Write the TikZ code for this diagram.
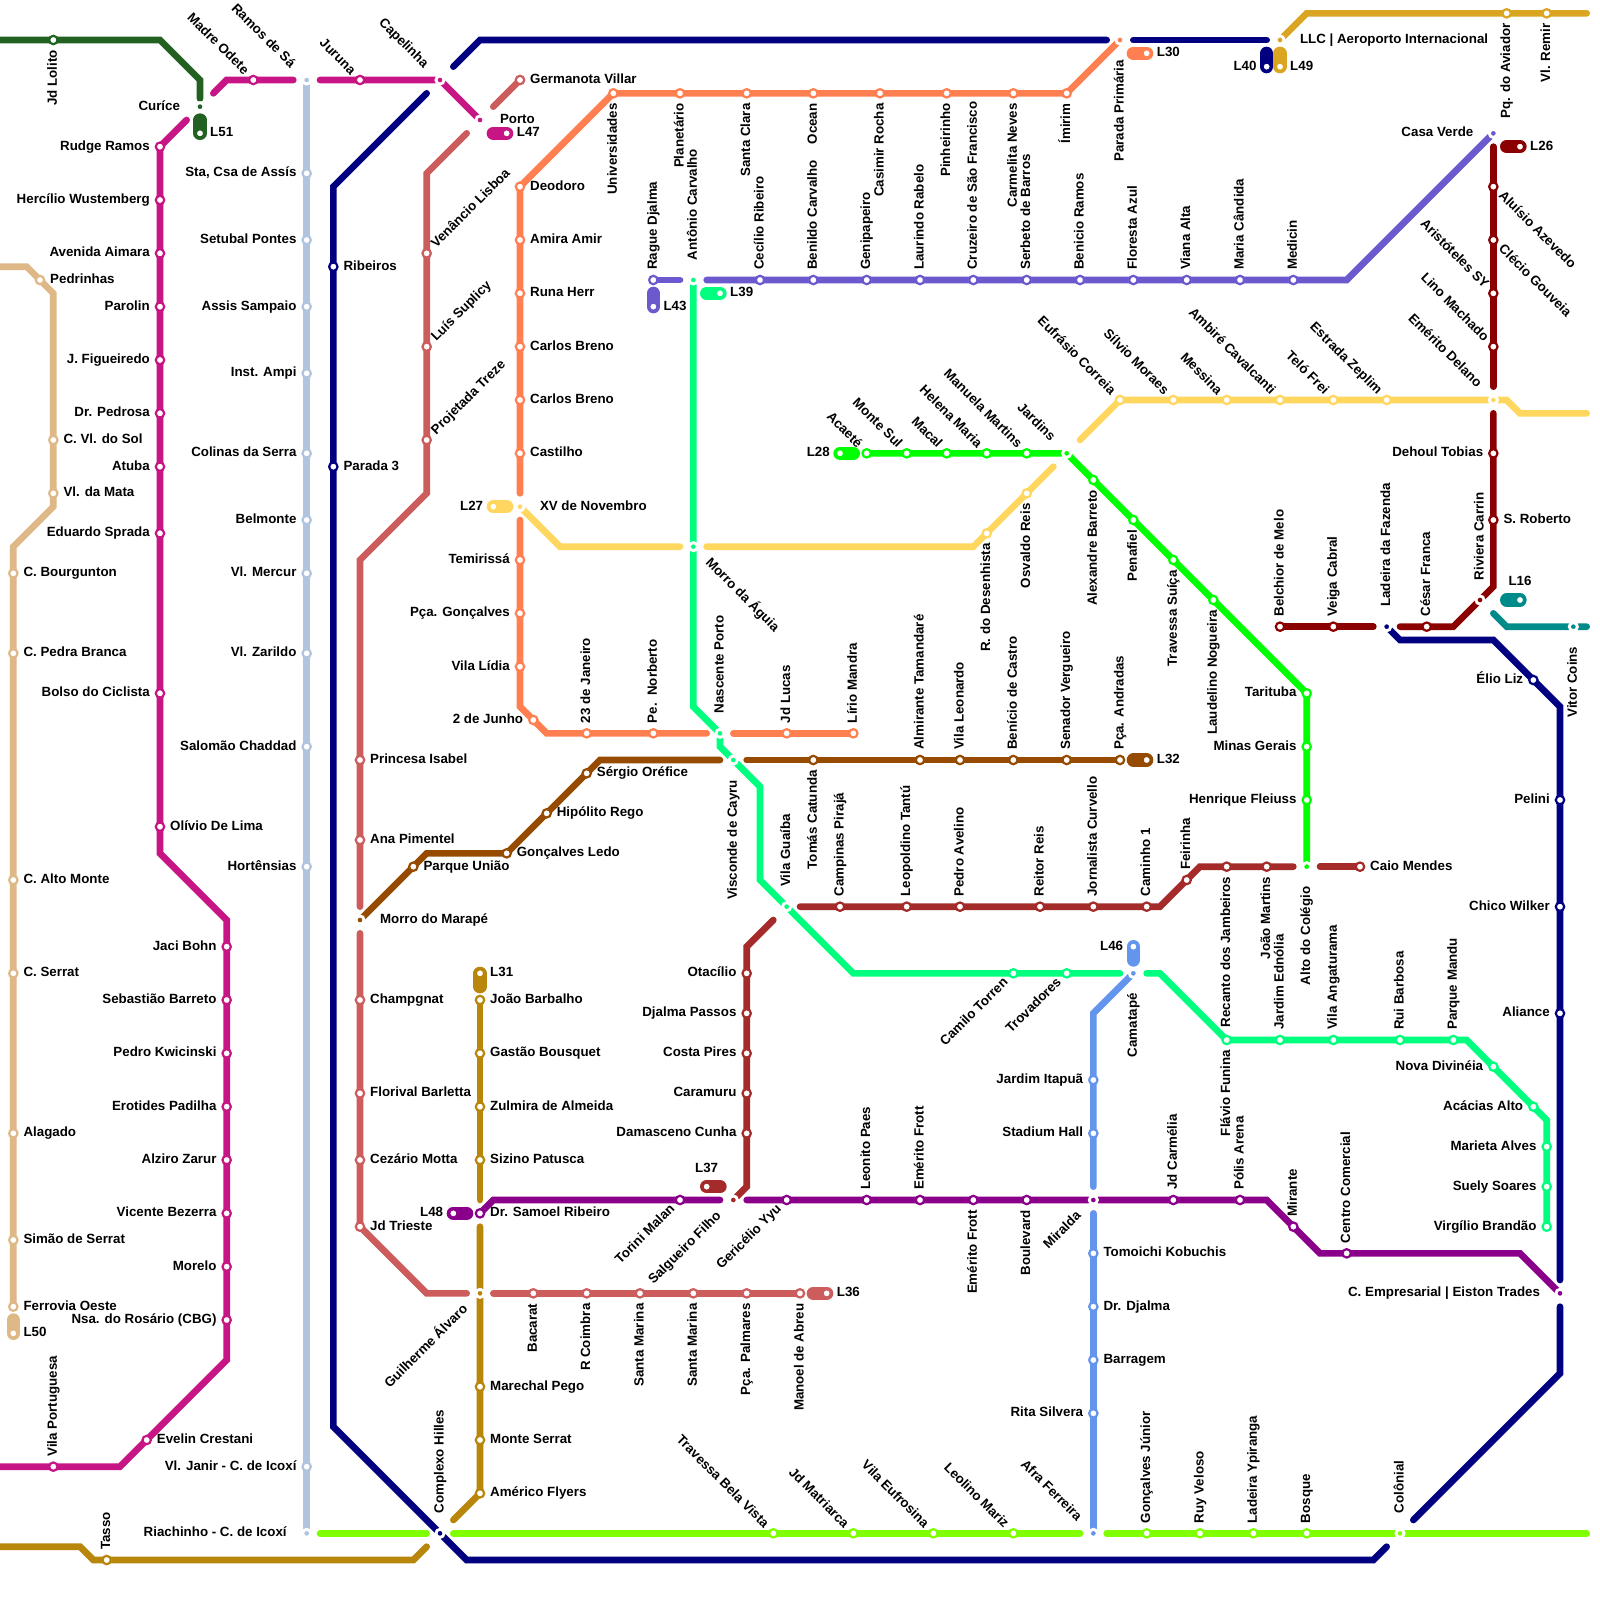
\documentclass[tikz,border=0pt]{standalone}
\usepackage{fontspec}
\setmainfont{Liberation Sans}
\definecolor{cDG}{HTML}{236123}
\definecolor{cMG}{HTML}{C71585}
\definecolor{cTN}{HTML}{DEB887}
\definecolor{cLB}{HTML}{B0C4DE}
\definecolor{cNV}{HTML}{000080}
\definecolor{cIR}{HTML}{CD5C5C}
\definecolor{cOR}{HTML}{FF7F50}
\definecolor{cGO}{HTML}{DAA520}
\definecolor{cDO}{HTML}{B8860B}
\definecolor{cSL}{HTML}{6A5ACD}
\definecolor{cSG}{HTML}{00FF7F}
\definecolor{cLW}{HTML}{7FFF00}
\definecolor{cLM}{HTML}{00FF00}
\definecolor{cDR}{HTML}{8B0000}
\definecolor{cYL}{HTML}{FFD75F}
\definecolor{cBR}{HTML}{964B00}
\definecolor{cRB}{HTML}{A52A2A}
\definecolor{cPU}{HTML}{8B008B}
\definecolor{cCF}{HTML}{6495ED}
\definecolor{cTL}{HTML}{008B8B}
\newcounter{sn}
\newcounter{rn}
\def\oR{0}\def\oL{180}\def\aR{west}\def\aL{east}
\newcommand\lbl[5]{\path (#1) ++({#3+\csname o#4\endcsname}:#2) ++({#3-90}:3.5pt)
  node[lab,rotate=#3,anchor=base \csname a#4\endcsname] (t\arabic{sn}) {#5};}
\newcommand\st[6]{\stepcounter{sn}\node[stat,draw=#1] (s\arabic{sn}) at (#2,#3) {};
  \lbl{s\arabic{sn}}{10.2pt}{#4}{#5}{#6}}
\newcommand\ic[6]{\stepcounter{sn}\node[inter,fill=#1] (s\arabic{sn}) at (#2,#3) {};
  \lbl{s\arabic{sn}}{20pt}{#4}{#5}{#6}}
\newcommand\rt[2]{\stepcounter{rn}\edef\rnm{r\arabic{rn}}%
  \foreach \px/\py [count=\ci] in {#2}{\coordinate (\rnm-\ci) at (\px,\py); \xdef\lastci{\ci}}%
  \draw[ln,#1] (\rnm-1) \foreach \ci in {2,...,\lastci}{ -- (\rnm-\ci)};}
\newcommand\pill[2]{\rt{draw=#1,line width=13.33pt}{#2}}
\tikzset{
  ln/.style={line width=6.67pt,line cap=round,line join=miter},
  stat/.style={circle,fill=white,line width=2.2pt,minimum size=8.4pt,inner sep=0pt,outer sep=0pt},
  inter/.style={circle,draw=white,line width=2.9pt,minimum size=8.1pt,inner sep=0pt,outer sep=0pt},
  lab/.style={inner sep=0pt,outer sep=0pt,text=black,font=\fontsize{13.33}{16}\selectfont\bfseries}
}
\begin{document}
\begin{tikzpicture}[x=13.3333pt,y=-13.3333pt]
\useasboundingbox (0,0) rectangle (120,120);
\fill[white] (0,0) rectangle (120,120);
% lines
\rt{draw=cLB}{23/6,23/115}
\rt{draw=cDG}{0/3,12/3,15/6,15/7.4}
\pill{cDG}{15/9,15/10}
\rt{draw=cMG}{0/110,9/110,17/102,17/69,12/64,12/11,14/9}
\rt{draw=cMG}{16/7,17/6,22/6}
\rt{draw=cMG}{24/6,33/6,36/9}
\pill{cMG}{37/10,38/10}
\rt{draw=cTN}{0/20,2/20,4/22,4/38,1/41,1/98}
\pill{cTN}{1/99,1/100}
\rt{draw=cNV}{34/5,36/3,83/3}
\rt{draw=cNV}{85/3,95/3}
\pill{cNV}{95/4,95/5}
\rt{draw=cNV}{32/7,25/14,25/107,35/117,103/117,104/116}
\rt{draw=cNV}{106/114,117/103,117/98}
\rt{draw=cNV}{117/96,117/53,112/48,105/48,104/47}
\rt{draw=cGO}{96/3,98/1,119/1}
\pill{cGO}{96/4,96/5}
\rt{draw=cIR}{39/6,37/8}
\rt{draw=cIR}{35/10,32/13,32/37,27/42,27/68}
\rt{draw=cIR}{27/70,27/92,32/97,35/97}
\rt{draw=cIR}{37/97,60/97}
\pill{cIR}{61/97,62/97}
\pill{cDO}{36/73,36/74}
\rt{draw=cDO}{36/75,36/90}
\rt{draw=cDO}{36/92,36/112,34/114}
\rt{draw=cDO}{32/116,31/117,7/117,6/116,0/116}
\pill{cOR}{85/4,86/4}
\rt{draw=cOR}{84/3,80/7,46/7,39/14,39/37}
\rt{draw=cOR}{39/39,39/53,41/55,53/55}
\rt{draw=cOR}{55/55,64/55}
\pill{cSL}{49/22,49/23}
\rt{draw=cSL}{49/21,51/21}
\rt{draw=cSL}{53/21,101/21,112/10}
\pill{cSG}{53/22,54/22}
\rt{draw=cSG}{52/21,52/53,54/55,54/56,57/59,57/66,64/73,84/73}
\rt{draw=cSG}{86/73,87/73,92/78,110/78,116/84,116/92}
\pill{cLM}{63/34,64/34}
\rt{draw=cLM}{65/34,80/34,98/52,98/65}
\pill{cYL}{37/38,38/38}
\rt{draw=cYL}{39/38,42/41,51/41}
\rt{draw=cYL}{53/41,73/41,79/35}
\rt{draw=cYL}{81/33,84/30,113/30,114/31,119/31}
\pill{cDR}{113/11,114/11}
\rt{draw=cDR}{112/11,112/29}
\rt{draw=cDR}{112/31,112/44,109/47,105/47}
\rt{draw=cDR}{103/47,96/47}
\pill{cTL}{113/45,114/45}
\rt{draw=cTL}{112/46,113/47,119/47}
\pill{cRB}{53/89,54/89}
\rt{draw=cRB}{58/69,56/71,56/89,55/90}
\rt{draw=cRB}{60/68,87/68,90/65,97/65}
\rt{draw=cRB}{99/65,102/65}
\pill{cBR}{85/57,86/57}
\rt{draw=cBR}{84/57,56/57}
\rt{draw=cBR}{54/57,45/57,38/64,32/64,27/69}
\pill{cPU}{34/91,35/91}
\rt{draw=cPU}{36/91,37/90,54/90}
\rt{draw=cPU}{56/90,95/90,99/94,114/94,117/97}
\pill{cCF}{85/71,85/72}
\rt{draw=cCF}{85/73,82/76,82/89}
\rt{draw=cCF}{82/91,82/115}
\rt{draw=cLW}{24/115,32/115}
\rt{draw=cLW}{34/115,81/115}
\rt{draw=cLW}{83/115,119/115}
% dark green
\st{cDG}{4}{3}{90}{L}{Jd Lolito}
\ic{cDG}{15}{8}{0}{L}{Curíce}
\st{cDG}{15}{10}{0}{R}{L51}
% magenta
\st{cMG}{4}{110}{90}{R}{Vila Portuguesa}
\st{cMG}{11}{108}{0}{R}{Evelin Crestani}
\st{cMG}{17}{99}{0}{L}{Nsa. do Rosário (CBG)}
\st{cMG}{17}{95}{0}{L}{Morelo}
\st{cMG}{17}{91}{0}{L}{Vicente Bezerra}
\st{cMG}{17}{87}{0}{L}{Alziro Zarur}
\st{cMG}{17}{83}{0}{L}{Erotides Padilha}
\st{cMG}{17}{79}{0}{L}{Pedro Kwicinski}
\st{cMG}{17}{75}{0}{L}{Sebastião Barreto}
\st{cMG}{17}{71}{0}{L}{Jaci Bohn}
\st{cMG}{12}{62}{0}{R}{Olívio De Lima}
\st{cMG}{12}{52}{0}{L}{Bolso do Ciclista}
\st{cMG}{12}{40}{0}{L}{Eduardo Sprada}
\st{cMG}{12}{35}{0}{L}{Atuba}
\st{cMG}{12}{31}{0}{L}{Dr. Pedrosa}
\st{cMG}{12}{27}{0}{L}{J. Figueiredo}
\st{cMG}{12}{23}{0}{L}{Parolin}
\st{cMG}{12}{19}{0}{L}{Avenida Aimara}
\st{cMG}{12}{15}{0}{L}{Hercílio Wustemberg}
\st{cMG}{12}{11}{0}{L}{Rudge Ramos}
\st{cMG}{19}{6}{-45}{L}{Madre Odete}
\st{cMG}{27}{6}{-45}{L}{Juruna}
\ic{cMG}{33}{6}{-45}{L}{Capelinha}
\ic{cMG}{36}{9}{0}{R}{Porto}
\st{cMG}{38}{10}{0}{R}{L47}
% tan
\st{cTN}{3}{21}{0}{R}{Pedrinhas}
\st{cTN}{4}{33}{0}{R}{C. Vl. do Sol}
\st{cTN}{4}{37}{0}{R}{Vl. da Mata}
\st{cTN}{1}{43}{0}{R}{C. Bourgunton}
\st{cTN}{1}{49}{0}{R}{C. Pedra Branca}
\st{cTN}{1}{66}{0}{R}{C. Alto Monte}
\st{cTN}{1}{73}{0}{R}{C. Serrat}
\st{cTN}{1}{85}{0}{R}{Alagado}
\st{cTN}{1}{93}{0}{R}{Simão de Serrat}
\st{cTN}{1}{98}{0}{R}{Ferrovia Oeste}
\st{cTN}{1}{100}{0}{R}{L50}
% light blue
\ic{cLB}{23}{6}{-45}{L}{Ramos de Sá}
\st{cLB}{23}{13}{0}{L}{Sta, Csa de Assís}
\st{cLB}{23}{18}{0}{L}{Setubal Pontes}
\st{cLB}{23}{23}{0}{L}{Assis Sampaio}
\st{cLB}{23}{28}{0}{L}{Inst. Ampi}
\st{cLB}{23}{34}{0}{L}{Colinas da Serra}
\st{cLB}{23}{39}{0}{L}{Belmonte}
\st{cLB}{23}{43}{0}{L}{Vl. Mercur}
\st{cLB}{23}{49}{0}{L}{Vl. Zarildo}
\st{cLB}{23}{56}{0}{L}{Salomão Chaddad}
\st{cLB}{23}{65}{0}{L}{Hortênsias}
\st{cLB}{23}{110}{0}{L}{Vl. Janir - C. de Icoxí}
\ic{cLB}{23}{115}{0}{L}{Riachinho - C. de Icoxí}
% navy
\st{cNV}{25}{20}{0}{R}{Ribeiros}
\st{cNV}{25}{35}{0}{R}{Parada 3}
\ic{cNV}{33}{115}{90}{R}{Complexo Hilles}
\st{cNV}{95}{5}{0}{L}{L40}
\st{cNV}{115}{51}{0}{L}{Élio Liz}
\st{cNV}{117}{60}{0}{L}{Pelini}
\st{cNV}{117}{68}{0}{L}{Chico Wilker}
\st{cNV}{117}{76}{0}{L}{Aliance}
\ic{cNV}{104}{47}{90}{R}{Ladeira da Fazenda}
% goldenrod
\ic{cGO}{96}{3}{0}{R}{LLC | Aeroporto Internacional}
\st{cGO}{96}{5}{0}{R}{L49}
\st{cGO}{113}{1}{90}{L}{Pq. do Aviador}
\st{cGO}{116}{1}{90}{L}{Vl. Remir}
% indian red
\st{cIR}{39}{6}{0}{R}{Germanota Villar}
\st{cIR}{32}{19}{45}{R}{Venâncio Lisboa}
\st{cIR}{32}{26}{45}{R}{Luís Suplicy}
\st{cIR}{32}{33}{45}{R}{Projetada Treze}
\st{cIR}{27}{57}{0}{R}{Princesa Isabel}
\st{cIR}{27}{63}{0}{R}{Ana Pimentel}
\st{cIR}{27}{75}{0}{R}{Champgnat}
\st{cIR}{27}{82}{0}{R}{Florival Barletta}
\st{cIR}{27}{87}{0}{R}{Cezário Motta}
\st{cIR}{27}{92}{0}{R}{Jd Trieste}
\st{cIR}{40}{97}{90}{L}{Bacarat}
\st{cIR}{44}{97}{90}{L}{R Coimbra}
\st{cIR}{48}{97}{90}{L}{Santa Marina}
\st{cIR}{52}{97}{90}{L}{Santa Marina}
\st{cIR}{56}{97}{90}{L}{Pça. Palmares}
\st{cIR}{60}{97}{90}{L}{Manoel de Abreu}
\st{cIR}{62}{97}{0}{R}{L36}
% dark goldenrod
\st{cDO}{36}{73}{0}{R}{L31}
\st{cDO}{36}{75}{0}{R}{João Barbalho}
\st{cDO}{36}{79}{0}{R}{Gastão Bousquet}
\st{cDO}{36}{83}{0}{R}{Zulmira de Almeida}
\st{cDO}{36}{87}{0}{R}{Sizino Patusca}
\ic{cDO}{36}{97}{45}{L}{Guilherme Álvaro}
\st{cDO}{36}{104}{0}{R}{Marechal Pego}
\st{cDO}{36}{108}{0}{R}{Monte Serrat}
\st{cDO}{36}{112}{0}{R}{Américo Flyers}
\st{cDO}{8}{117}{90}{R}{Tasso}
% orange
\ic{cOR}{84}{3}{90}{L}{Parada Primária}
\st{cOR}{86}{4}{0}{R}{L30}
\st{cOR}{46}{7}{90}{L}{Universidades}
\st{cOR}{51}{7}{90}{L}{Planetário}
\st{cOR}{56}{7}{90}{L}{Santa Clara}
\st{cOR}{61}{7}{90}{L}{Ocean}
\st{cOR}{66}{7}{90}{L}{Casimir Rocha}
\st{cOR}{71}{7}{90}{L}{Pinheirinho}
\st{cOR}{76}{7}{90}{L}{Carmelita Neves}
\st{cOR}{80}{7}{90}{L}{Ímirim}
\st{cOR}{39}{14}{0}{R}{Deodoro}
\st{cOR}{39}{18}{0}{R}{Amira Amir}
\st{cOR}{39}{22}{0}{R}{Runa Herr}
\st{cOR}{39}{26}{0}{R}{Carlos Breno}
\st{cOR}{39}{30}{0}{R}{Carlos Breno}
\st{cOR}{39}{34}{0}{R}{Castilho}
\st{cOR}{39}{42}{0}{L}{Temirissá}
\st{cOR}{39}{46}{0}{L}{Pça. Gonçalves}
\st{cOR}{39}{50}{0}{L}{Vila Lídia}
\st{cOR}{40}{54}{0}{L}{2 de Junho}
\st{cOR}{44}{55}{90}{R}{23 de Janeiro}
\st{cOR}{49}{55}{90}{R}{Pe.\ \ Norberto}
\st{cOR}{59}{55}{90}{R}{Jd Lucas}
\st{cOR}{64}{55}{90}{R}{Lírio Mandra}
% slate
\st{cSL}{49}{23}{0}{R}{L43}
\st{cSL}{49}{21}{90}{R}{Rague Djalma}
\st{cSL}{57}{21}{90}{R}{Cecílio Ribeiro}
\st{cSL}{61}{21}{90}{R}{Benildo Carvalho}
\st{cSL}{65}{21}{90}{R}{Genipapeiro}
\st{cSL}{69}{21}{90}{R}{Laurindo Rabelo}
\st{cSL}{73}{21}{90}{R}{Cruzeiro de São Francisco}
\st{cSL}{77}{21}{90}{R}{Serbeto de Barros}
\st{cSL}{81}{21}{90}{R}{Benicio Ramos}
\st{cSL}{85}{21}{90}{R}{Floresta Azul}
\st{cSL}{89}{21}{90}{R}{Viana Alta}
\st{cSL}{93}{21}{90}{R}{Maria Cândida}
\st{cSL}{97}{21}{90}{R}{Medicin}
\ic{cSL}{112}{10}{0}{L}{Casa Verde}
% spring green
\ic{cSG}{52}{21}{90}{R}{Antônio Carvalho}
\st{cSG}{54}{22}{0}{R}{L39}
\ic{cSG}{52}{41}{-45}{R}{Morro da Águia}
\ic{cSG}{54}{55}{90}{R}{Nascente Porto}
\ic{cSG}{55}{57}{90}{L}{Visconde de Cayru}
\ic{cSG}{59}{68}{90}{R}{Vila Guaíba}
\st{cSG}{76}{73}{45}{L}{Camilo Torren}
\st{cSG}{80}{73}{45}{L}{Trovadores}
\st{cSG}{92}{78}{90}{L}{Flávio Funina}
\st{cSG}{96}{78}{90}{R}{Jardim Ednólia}
\st{cSG}{100}{78}{90}{R}{Vila Angaturama}
\st{cSG}{105}{78}{90}{R}{Rui Barbosa}
\st{cSG}{109}{78}{90}{R}{Parque Mandu}
\st{cSG}{112}{80}{0}{L}{Nova Divinéia}
\st{cSG}{115}{83}{0}{L}{Acácias Alto}
\st{cSG}{116}{86}{0}{L}{Marieta Alves}
\st{cSG}{116}{89}{0}{L}{Suely Soares}
\st{cSG}{116}{92}{0}{L}{Virgílio Brandão}
% lime
\st{cLM}{63}{34}{0}{L}{L28}
\st{cLM}{65}{34}{-45}{L}{Acaeté}
\st{cLM}{68}{34}{-45}{L}{Monte Sul}
\st{cLM}{71}{34}{-45}{L}{Macal}
\st{cLM}{74}{34}{-45}{L}{Helena Maria}
\st{cLM}{77}{34}{-45}{L}{Manuela Martins}
\ic{cLM}{80}{34}{-45}{L}{Jardins}
\st{cLM}{82}{36}{90}{L}{Alexandre Barreto}
\st{cLM}{85}{39}{90}{L}{Penafiel}
\st{cLM}{88}{42}{90}{L}{Travessa Suíça}
\st{cLM}{91}{45}{90}{L}{Laudelino Nogueira}
\st{cLM}{98}{52}{0}{L}{Tarituba}
\st{cLM}{98}{56}{0}{L}{Minas Gerais}
\st{cLM}{98}{60}{0}{L}{Henrique Fleiuss}
\ic{cLM}{98}{65}{90}{L}{Alto do Colégio}
% yellow
\st{cYL}{37}{38}{0}{L}{L27}
\ic{cYL}{39}{38}{0}{R}{XV de Novembro}
\st{cYL}{74}{40}{90}{L}{R. do Desenhista}
\st{cYL}{77}{37}{90}{L}{Osvaldo Reis}
\st{cYL}{84}{30}{-45}{L}{Eufrásio Correia}
\st{cYL}{88}{30}{-45}{L}{Sílvio Moraes}
\st{cYL}{92}{30}{-45}{L}{Messina}
\st{cYL}{96}{30}{-45}{L}{Ambiré Cavalcanti}
\st{cYL}{100}{30}{-45}{L}{Teló Frei}
\st{cYL}{104}{30}{-45}{L}{Estrada Zeplim}
\ic{cYL}{112}{30}{-45}{L}{Emérito Delano}
% dark red
\st{cDR}{114}{11}{0}{R}{L26}
\st{cDR}{112}{14}{-45}{R}{Aluísio Azevedo}
\st{cDR}{112}{18}{-45}{R}{Clécio Gouveia}
\st{cDR}{112}{22}{-45}{L}{Aristóteles SY}
\st{cDR}{112}{26}{-45}{L}{Lino Machado}
\st{cDR}{112}{34}{0}{L}{Dehoul Tobias}
\st{cDR}{112}{39}{0}{R}{S. Roberto}
\ic{cDR}{111}{45}{90}{R}{Riviera Carrin}
\st{cDR}{107}{47}{90}{R}{César Franca}
\st{cDR}{100}{47}{90}{R}{Veiga Cabral}
\st{cDR}{96}{47}{90}{R}{Belchior de Melo}
% teal
\stepcounter{sn}\node[stat,draw=cTL] (s\arabic{sn}) at (114,45) {};
\node[lab] (t\arabic{sn}) at (114,43.6) {L16};
\ic{cTL}{118}{47}{90}{L}{Vitor Coins}
% L37 brown
\stepcounter{sn}\node[stat,draw=cRB] (s\arabic{sn}) at (53,89) {};
\node[lab] (t\arabic{sn}) at (53,87.6) {L37};
\st{cRB}{56}{73}{0}{L}{Otacílio}
\st{cRB}{56}{76}{0}{L}{Djalma Passos}
\st{cRB}{56}{79}{0}{L}{Costa Pires}
\st{cRB}{56}{82}{0}{L}{Caramuru}
\st{cRB}{56}{85}{0}{L}{Damasceno Cunha}
\ic{cRB}{55}{90}{45}{L}{Salgueiro Filho}
\st{cRB}{63}{68}{90}{R}{Campinas Pirajá}
\st{cRB}{68}{68}{90}{R}{Leopoldino Tantú}
\st{cRB}{72}{68}{90}{R}{Pedro Avelino}
\st{cRB}{78}{68}{90}{R}{Reitor Reis}
\st{cRB}{82}{68}{90}{R}{Jornalista Curvello}
\st{cRB}{86}{68}{90}{R}{Caminho 1}
\st{cRB}{89}{66}{90}{R}{Feirinha}
\st{cRB}{92}{65}{90}{L}{Recanto dos Jambeiros}
\st{cRB}{95}{65}{90}{L}{João Martins}
\st{cRB}{102}{65}{0}{R}{Caio Mendes}
% L32 brown
\st{cBR}{86}{57}{0}{R}{L32}
\st{cBR}{61}{57}{90}{L}{Tomás Catunda}
\st{cBR}{69}{57}{90}{R}{Almirante Tamandaré}
\st{cBR}{72}{57}{90}{R}{Vila Leonardo}
\st{cBR}{76}{57}{90}{R}{Benício de Castro}
\st{cBR}{80}{57}{90}{R}{Senador Vergueiro}
\st{cBR}{84}{57}{90}{R}{Pça. Andradas}
\st{cBR}{44}{58}{0}{R}{Sérgio Oréfice}
\st{cBR}{41}{61}{0}{R}{Hipólito Rego}
\st{cBR}{38}{64}{0}{R}{Gonçalves Ledo}
\st{cBR}{31}{65}{0}{R}{Parque União}
\ic{cBR}{27}{69}{0}{R}{Morro do Marapé}
% purple
\st{cPU}{34}{91}{0}{L}{L48}
\st{cPU}{36}{91}{0}{R}{Dr. Samoel Ribeiro}
\st{cPU}{51}{90}{45}{L}{Torini Malan}
\st{cPU}{59}{90}{45}{L}{Gericélio Yyu}
\st{cPU}{65}{90}{90}{R}{Leonito Paes}
\st{cPU}{69}{90}{90}{R}{Emérito Frott}
\st{cPU}{73}{90}{90}{L}{Emérito Frott}
\st{cPU}{77}{90}{90}{L}{Boulevard}
\ic{cPU}{82}{90}{45}{L}{Miralda}
\st{cPU}{88}{90}{90}{R}{Jd Carmélia}
\st{cPU}{93}{90}{90}{R}{Pólis Arena}
\st{cPU}{97}{92}{90}{R}{Mirante}
\st{cPU}{101}{94}{90}{R}{Centro Comercial}
\ic{cPU}{117}{97}{0}{L}{C. Empresarial | Eiston Trades}
% cornflower
\st{cCF}{85}{71}{0}{L}{L46}
\ic{cCF}{85}{73}{90}{L}{Camatapé}
\st{cCF}{82}{81}{0}{L}{Jardim Itapuã}
\st{cCF}{82}{85}{0}{L}{Stadium Hall}
\st{cCF}{82}{94}{0}{R}{Tomoichi Kobuchis}
\st{cCF}{82}{98}{0}{R}{Dr. Djalma}
\st{cCF}{82}{102}{0}{R}{Barragem}
\st{cCF}{82}{106}{0}{L}{Rita Silvera}
\ic{cCF}{82}{115}{-45}{L}{Afra Ferreira}
% lawn
\st{cLW}{58}{115}{-45}{L}{Travessa Bela Vista}
\st{cLW}{64}{115}{-45}{L}{Jd Matriarca}
\st{cLW}{70}{115}{-45}{L}{Vila Eufrosina}
\st{cLW}{76}{115}{-45}{L}{Leolino Mariz}
\st{cLW}{86}{115}{90}{R}{Gonçalves Júnior}
\st{cLW}{90}{115}{90}{R}{Ruy Veloso}
\st{cLW}{94}{115}{90}{R}{Ladeira Ypiranga}
\st{cLW}{98}{115}{90}{R}{Bosque}
\ic{cLW}{105}{115}{90}{R}{Colônial}
\end{tikzpicture}
\end{document}
